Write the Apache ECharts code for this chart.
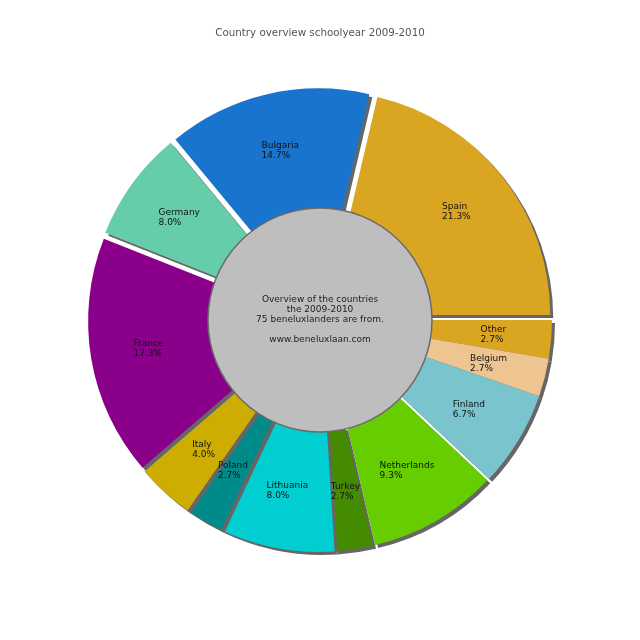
<!DOCTYPE html>
<html>
<head>
<meta charset="utf-8">
<script src="https://cdn.jsdelivr.net/npm/echarts@6/dist/echarts.min.js"></script>
<style>
  html, body { margin: 0; padding: 0; background: #ffffff; }
  #chart { width: 640px; height: 640px; }
</style>
</head>
<body>
<div id="chart"></div>
<script>
// Data (clockwise from 3 o'clock)
const countries = ['Other', 'Belgium', 'Finland', 'Netherlands', 'Turkey', 'Lithuania', 'Poland', 'Italy', 'France', 'Germany', 'Bulgaria', 'Spain'];
const students = [2, 2, 5, 7, 2, 6, 2, 3, 13, 6, 11, 16];
const sliceColors = ['#DAA520', '#EEC591', '#7AC5CD', '#66CD00', '#458B00', '#00CED1', '#008B8B', '#CDAD00', '#8B008B', '#66CDAA', '#1874CD', '#DAA520'];
const explodedCountries = ['Netherlands', 'France', 'Germany', 'Bulgaria', 'Spain'];
const titleText = 'Country overview schoolyear 2009-2010';
const centerLines = ['Overview of the countries', 'the 2009-2010', '75 beneluxlanders are from.', '', 'www.beneluxlaan.com'];

const total = students.reduce((a, b) => a + b, 0);
const FONT = 'DejaVu Sans';

// Build one ring layer; slices outside the layer are kept (for angles) but invisible.
function ringLayer(explodedLayer, radius, offset) {
  const data = countries.map((name, i) => {
    const isExploded = explodedCountries.indexOf(name) >= 0;
    const visible = isExploded === explodedLayer;
    return {
      name: name,
      value: students[i],
      selected: explodedLayer && isExploded,
      itemStyle: visible ? { color: sliceColors[i] } : { color: 'rgba(0,0,0,0)', shadowColor: 'rgba(0,0,0,0)' },
      label: { show: visible }
    };
  });
  return {
    type: 'pie',
    center: ['50%', '50%'],
    radius: radius,
    startAngle: 0,
    clockwise: true,
    avoidLabelOverlap: false,
    selectedMode: 'multiple',
    selectedOffset: offset,
    silent: true,
    emphasis: { disabled: true },
    itemStyle: {
      shadowColor: '#666666',
      shadowOffsetX: 3,
      shadowOffsetY: 3,
      shadowBlur: 0
    },
    label: {
      show: true,
      position: 'inside',
      formatter: function (p) {
        const pct = (p.value / total * 100).toFixed(1);
        return '{l|' + p.name + '}\n{l|' + pct + '%}';
      },
      rich: {
        l: { align: 'left', fontFamily: FONT, fontSize: 9, lineHeight: 10, color: '#111111' }
      }
    },
    labelLine: { show: false },
    data: data
  };
}

const chart = echarts.init(document.getElementById('chart'), null, { renderer: 'canvas' });
chart.setOption({
  animation: false,
  backgroundColor: '#ffffff',
  title: {
    text: titleText,
    left: 'center',
    top: 23,
    textStyle: { fontFamily: FONT, fontSize: 10.3, fontWeight: 'normal', color: '#555555' }
  },
  series: [
    ringLayer(false, [110, 232], 0),
    ringLayer(true, [102, 224], 8),
    {
      type: 'pie',
      center: ['50%', '50%'],
      radius: [0, 112],
      silent: true,
      emphasis: { disabled: true },
      itemStyle: { color: '#BEBEBE', borderColor: '#6a6a6a', borderWidth: 1.5 },
      label: {
        show: true,
        position: 'center',
        formatter: centerLines.join('\n'),
        fontFamily: FONT,
        fontSize: 9,
        lineHeight: 10,
        color: '#222222'
      },
      labelLine: { show: false },
      data: [{ name: 'center', value: 1 }]
    }
  ]
});
</script>
</body>
</html>
